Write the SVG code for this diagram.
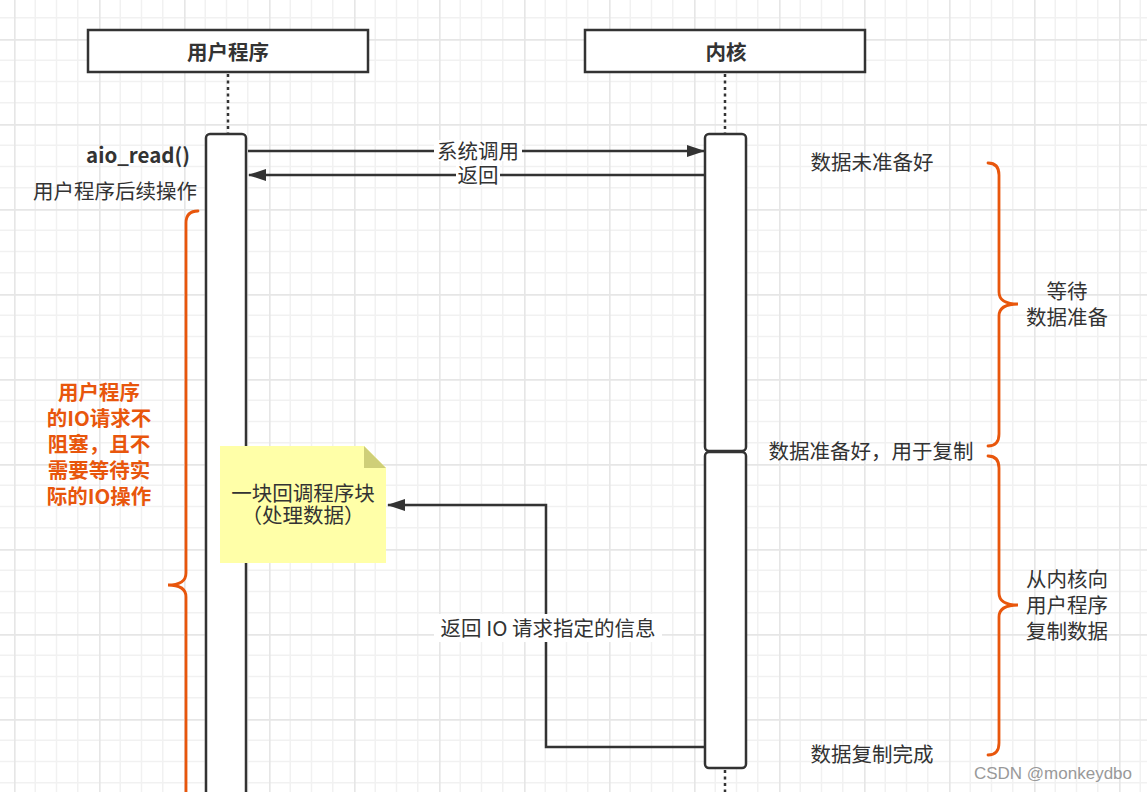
<svg xmlns="http://www.w3.org/2000/svg" width="1147" height="792" viewBox="0 0 1147 792">
<style>
.t{font-family:"Noto Sans CJK SC","Liberation Sans",sans-serif;fill:#333;font-size:20.5px}
.b{font-weight:bold}
.o{fill:#E8560C;font-weight:bold;font-size:20.5px}
.box{fill:#fff;stroke:#333;stroke-width:2.5}
.act{fill:#fff;stroke:#333;stroke-width:2.5}
.dot{stroke:#333;stroke-width:2.5;stroke-dasharray:3 3.5;fill:none}
.ln{stroke:#333;stroke-width:2.5;fill:none}
.br{stroke:#E8560C;stroke-width:2.8;fill:none;stroke-linecap:round}
</style>
<defs>
<pattern id="g" width="85" height="85" patternUnits="userSpaceOnUse" x="14" y="39">
<path d="M21.25 0V85M42.5 0V85M63.75 0V85M0 21.25H85M0 42.5H85M0 63.75H85" stroke="#f1f1f1" stroke-width="1.5"/>
<path d="M0.75 0V85M0 0.75H85" stroke="#e6e6e6" stroke-width="1.8"/>
</pattern>
<marker id="ah" markerWidth="18" markerHeight="12" refX="17" refY="6" orient="auto" markerUnits="userSpaceOnUse">
<path d="M0,0 L18,6 L0,12 Z" fill="#333"/>
</marker>
</defs>
<rect width="1147" height="792" fill="#fff"/>
<rect width="1147" height="792" fill="url(#g)"/>

<g id="lifeline-user">
<rect class="box" x="88" y="30" width="280" height="42"/>
<text class="t b" x="228" y="60" text-anchor="middle" font-size="22.5">用户程序</text>
<line class="dot" x1="228" y1="74" x2="228" y2="133"/>
</g>
<g id="lifeline-kernel">
<rect class="box" x="585" y="30" width="280" height="42"/>
<text class="t b" x="726" y="60" text-anchor="middle" font-size="22.5">内核</text>
<line class="dot" x1="725" y1="74" x2="725" y2="133"/>
<line class="dot" x1="725" y1="770" x2="725" y2="792"/>
</g>
<g id="act-user">
<rect class="act" x="206" y="134" width="40" height="700" rx="4"/>
</g>
<g id="act-kernel-1">
<rect class="act" x="705" y="134" width="41" height="317" rx="4"/>
</g>
<g id="act-kernel-2">
<rect class="act" x="705" y="452" width="41" height="316" rx="4"/>
</g>

<g id="note">
<path d="M220,446 H364 L386,468 V563 H220 Z" fill="#FFFFA8"/>
<path d="M364,446 L386,468 H364 Z" fill="#CFCF78"/>
<text class="t" x="303" y="501" text-anchor="middle" font-size="17.5">一块回调程序块</text>
<text class="t" x="303" y="523" text-anchor="middle" font-size="17.5">（处理数据）</text>
</g>

<g id="connectors">
<line class="ln" x1="248" y1="151" x2="704" y2="151" marker-end="url(#ah)"/>
<rect x="434" y="140" width="88" height="21" fill="#fff"/>
<text class="t" x="478" y="159" text-anchor="middle">系统调用</text>
<line class="ln" x1="705" y1="175" x2="249" y2="175" marker-end="url(#ah)"/>
<rect x="456" y="165" width="44" height="21" fill="#fff"/>
<text class="t" x="478" y="183" text-anchor="middle">返回</text>
<path class="ln" d="M705,747 H546 V505 H388" marker-end="url(#ah)"/>
<rect x="434" y="614" width="228" height="28" fill="#fff"/>
<text class="t" x="548" y="636" text-anchor="middle">返回 IO 请求指定的信息</text>
</g>

<g id="labels">
<text class="t b" x="190" y="163" text-anchor="end">aio_read()</text>
<text class="t" x="197" y="199" text-anchor="end">用户程序后续操作</text>
<text class="t" x="872" y="170" text-anchor="middle">数据未准备好</text>
<text class="t" x="871" y="459" text-anchor="middle">数据准备好，用于复制</text>
<text class="t" x="872" y="762" text-anchor="middle">数据复制完成</text>
<text class="t" x="1067" y="299" text-anchor="middle">等待</text>
<text class="t" x="1067" y="325" text-anchor="middle">数据准备</text>
<text class="t" x="1067" y="587" text-anchor="middle">从内核向</text>
<text class="t" x="1067" y="613" text-anchor="middle">用户程序</text>
<text class="t" x="1067" y="639" text-anchor="middle">复制数据</text>
<text class="t o" x="99" y="400" text-anchor="middle">用户程序</text>
<text class="t o" x="99" y="426" text-anchor="middle">的IO请求不</text>
<text class="t o" x="99" y="452" text-anchor="middle">阻塞，且不</text>
<text class="t o" x="99" y="478" text-anchor="middle">需要等待实</text>
<text class="t o" x="99" y="504" text-anchor="middle">际的IO操作</text>
<text x="1132" y="779" text-anchor="end" font-family="'Liberation Sans',sans-serif" font-size="17" fill="#999">CSDN @monkeydbo</text>
</g>

<g id="braces">
<path class="br" d="M198,211 Q186,211 186,223 L186,573 Q186,585 168,585 Q186,585 186,597 L186,800"/>
<path class="br" d="M988,163 Q999,163 999,175 L999,292 Q999,304 1018,304 Q999,304 999,316 L999,434 Q999,446 988,446"/>
<path class="br" d="M988,456 Q999,456 999,468 L999,593 Q999,605 1018,605 Q999,605 999,617 L999,743 Q999,755 988,755"/>
</g>
</svg>
